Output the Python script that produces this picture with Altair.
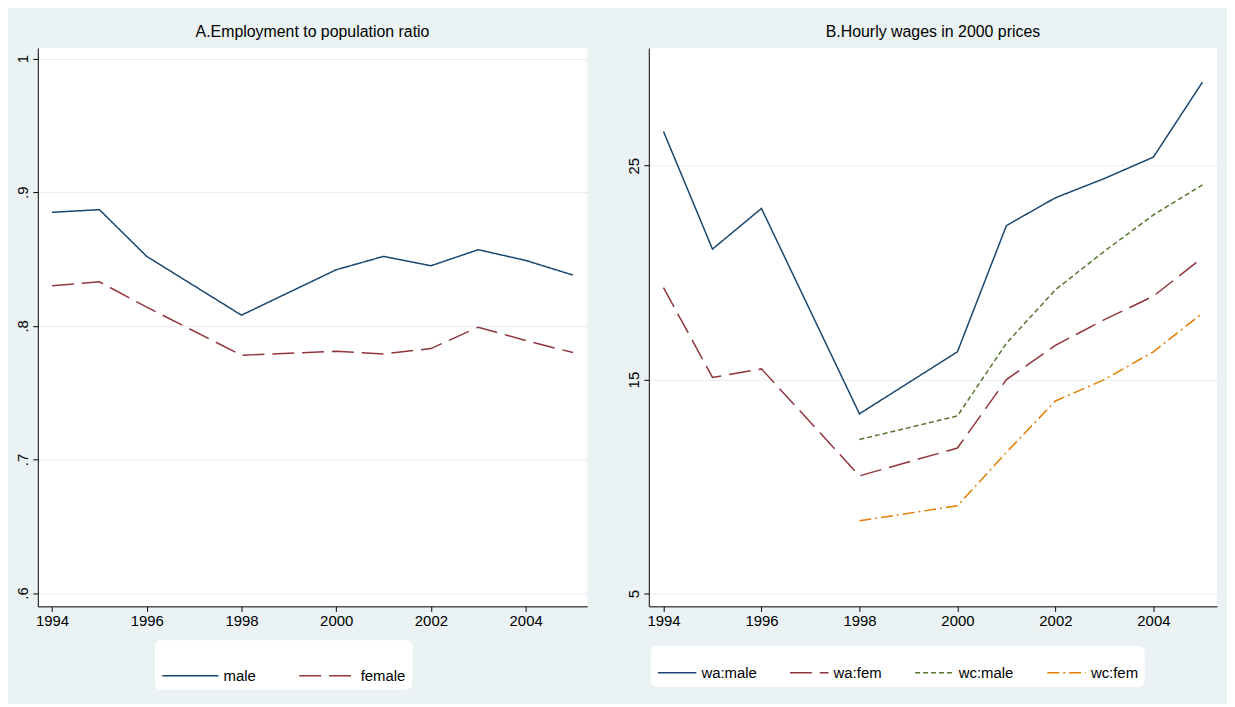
import altair as alt
import pandas as pd

years_a = [1994, 1995, 1996, 1998, 2000, 2001, 2002, 2003, 2004, 2005]
emp_male = [0.885, 0.887, 0.852, 0.808, 0.842, 0.852, 0.845, 0.857, 0.849, 0.838]
emp_female = [0.830, 0.833, 0.814, 0.778, 0.781, 0.779, 0.783, 0.799, 0.789, 0.780]

years_wa = [1994, 1995, 1996, 1998, 2000, 2001, 2002, 2003, 2004, 2005]
wa_male = [26.6, 21.1, 23.0, 13.4, 16.3, 22.2, 23.5, 24.4, 25.4, 28.9]
wa_fem = [19.3, 15.1, 15.5, 10.5, 11.8, 15.0, 16.6, 17.8, 18.9, 20.7]
years_wc = [1998, 2000, 2001, 2002, 2003, 2004, 2005]
wc_male = [12.2, 13.3, 16.7, 19.2, 21.0, 22.7, 24.1]
wc_fem = [8.4, 9.1, 11.6, 14.0, 15.0, 16.3, 18.1]

NAVY, MAROON, GREEN, ORANGE = "#1a476f", "#90353b", "#55752f", "#e37e00"


def long(years, values, name):
    return pd.DataFrame({"year": years, "value": values, "series": name})


df_a = pd.concat([long(years_a, emp_male, "male"), long(years_a, emp_female, "female")])
df_b = pd.concat([
    long(years_wa, wa_male, "wa:male"),
    long(years_wa, wa_fem, "wa:fem"),
    long(years_wc, wc_male, "wc:male"),
    long(years_wc, wc_fem, "wc:fem"),
])


def make_legend(lx, sym, colpad, ly):
    return alt.Legend(
        title=None, orient="none", legendX=lx, legendY=ly, direction="horizontal",
        symbolType="stroke", symbolSize=sym, symbolStrokeWidth=1.5, labelFontSize=15,
        labelColor="#000", fillColor="white", padding=6, columnPadding=colpad, cornerRadius=6,
    )


x_axis = alt.Axis(values=[1994, 1996, 1998, 2000, 2002, 2004], format="d", grid=False,
                  labelFontSize=15, labelColor="#000", tickColor="#000", domainColor="#000")


def panel(df, names, colors, dashes, ydomain, yticks, label_expr, title, w, lg):
    return (
        alt.Chart(df, title=alt.Title(title, fontSize=16, fontWeight="normal", color="#000", offset=8))
        .mark_line(strokeWidth=1.5, clip=True)
        .encode(
            x=alt.X("year:Q", title=None, scale=alt.Scale(domain=[1993.7, 2005.3], nice=False, zero=False), axis=x_axis),
            y=alt.Y("value:Q", title=None, scale=alt.Scale(domain=ydomain, nice=False, zero=False),
                    axis=alt.Axis(values=yticks, labelAngle=-90, labelAlign="center", labelBaseline="bottom",
                                  labelExpr=label_expr, labelFontSize=15, labelColor="#000",
                                  gridColor="#e6eded", tickColor="#000", domainColor="#000")),
            color=alt.Color("series:N", scale=alt.Scale(domain=names, range=colors), legend=lg),
            strokeDash=alt.StrokeDash("series:N", scale=alt.Scale(domain=names, range=dashes), legend=lg),
        )
        .properties(width=w, height=562)
    )


a = panel(df_a, ["male", "female"], [NAVY, MAROON], [[1, 0], [22, 8]],
          [0.59, 1.008], [0.6, 0.7, 0.8, 0.9, 1.0],
          "datum.value >= 1 ? '1' : substring(format(datum.value, '.1f'), 1)",
          "A.Employment to population ratio", 553, make_legend(118, 3200, 40, 596))
b = panel(df_b, ["wa:male", "wa:fem", "wc:male", "wc:fem"], [NAVY, MAROON, GREEN, ORANGE],
          [[1, 0], [22, 8], [5, 3], [12, 4, 2, 4]],
          [4.4, 30.5], [5, 15, 25], "format(datum.value, 'd')",
          "B.Hourly wages in 2000 prices", 572, make_legend(2, 1500, 30, 602))

chart = (
    alt.hconcat(a, b, spacing=40)
    .resolve_scale(color="independent", strokeDash="independent")
    .configure(background="#eaf2f3", padding={"top": 14, "left": 8, "right": 10, "bottom": 12})
    .configure_view(fill="white", stroke=None)
)

chart.save("out.html", embed_options={"renderer": "svg", "actions": False})
